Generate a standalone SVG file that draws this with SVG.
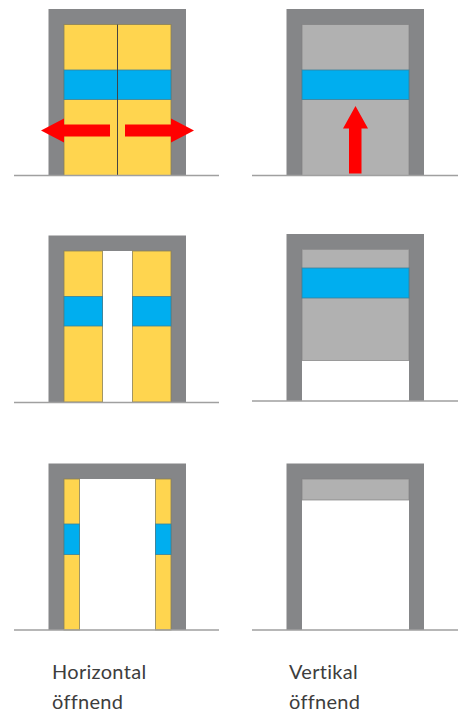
<svg xmlns="http://www.w3.org/2000/svg" width="465" height="713" viewBox="0 0 465 713">
<style>
.frame{fill:#858688}
.inner{stroke:#6e6e6e;stroke-opacity:.75;stroke-width:1}
.yellow{fill:#ffd54f;stroke:#8a7f55;stroke-opacity:.8;stroke-width:1}
.blue{fill:#00aeef;stroke:#3a7f9a;stroke-opacity:.8;stroke-width:1}
.grey{fill:#b1b1b1;stroke:#808080;stroke-opacity:.7;stroke-width:1}
.white{fill:#fff}
.ground{stroke:#a0a0a0;stroke-width:1.4;fill:none}
.arrow{fill:#ff0000}
.label{font-family:"Lato","Open Sans",sans-serif;font-size:20px;fill:#3d3d3d;letter-spacing:.3px}
</style>
<g id="door-h1">
<path class="frame" d="M48.500 9H186V175.500H48.500Z"/>
<rect class="yellow" x="64" y="24.500" width="107" height="151"/>
<rect class="blue" x="64" y="70" width="107" height="29.500"/>
<path d="M117.500 24.500V175.500" stroke="#444" stroke-width="1" fill="none"/>
</g>
<g id="door-v1">
<path class="frame" d="M286.500 9H424V175.500H286.500Z"/>
<rect class="grey" x="302" y="24.500" width="107" height="151"/>
<rect class="blue" x="302" y="70" width="107" height="29.500"/>
</g>
<g id="door-h2">
<path class="frame" d="M48.500 235.500H186V402H48.500Z"/>
<rect class="white" x="64" y="251" width="107" height="151"/>
<rect class="yellow" x="64" y="251" width="38.500" height="151"/>
<rect class="yellow" x="132.500" y="251" width="38.500" height="151"/>
<rect class="blue" x="64" y="296.500" width="38.500" height="29.500"/>
<rect class="blue" x="132.500" y="296.500" width="38.500" height="29.500"/>
</g>
<g id="door-v2">
<path class="frame" d="M286.500 234H424V401H286.500Z"/>
<rect class="white" x="302" y="249.500" width="107" height="151.500"/>
<rect class="grey" x="302" y="249.500" width="107" height="111"/>
<rect class="blue" x="302" y="268" width="107" height="30"/>
</g>
<g id="door-h3">
<path class="frame" d="M48.500 463.500H186V630H48.500Z"/>
<rect class="white" x="64" y="479" width="107" height="151"/>
<rect class="yellow" x="64" y="479" width="15.500" height="151"/>
<rect class="yellow" x="155.500" y="479" width="15.500" height="151"/>
<rect class="blue" x="64" y="524" width="15.500" height="30.500"/>
<rect class="blue" x="155.500" y="524" width="15.500" height="30.500"/>
</g>
<g id="door-v3">
<path class="frame" d="M286.500 463.500H424V630H286.500Z"/>
<rect class="white" x="302" y="479" width="107" height="151"/>
<rect class="grey" x="302" y="479" width="107" height="21"/>
</g>
<g id="connectors">
<path class="ground" d="M14 175.500H219M252 175.500H458M14 402.500H219M252 401H458M14 630H219M252 630H458"/>
<path class="arrow" d="M41 130.500L64 118.500V124.500H110V136.500H64V142.500Z"/>
<path class="arrow" d="M194 130.500L171 118.500V124.500H125V136.500H171V142.500Z"/>
<path class="arrow" d="M355.500 106L368 128.500H361.500V173.500H349V128.500H343Z"/>
</g>
<g id="labels">
<text class="label" x="52" y="678.500">Horizontal</text>
<text class="label" x="52" y="708.500">öffnend</text>
<text class="label" x="289" y="678.500">Vertikal</text>
<text class="label" x="289" y="708.500">öffnend</text>
</g>
</svg>
